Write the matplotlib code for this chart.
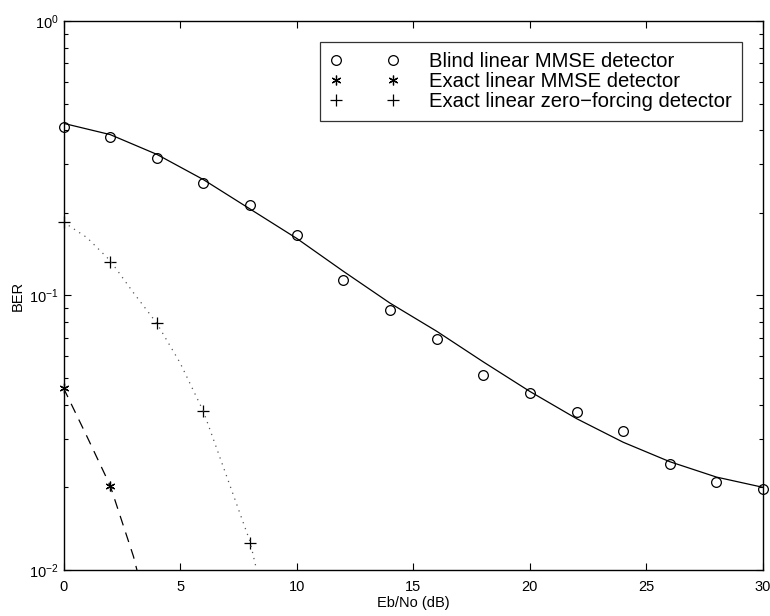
import matplotlib
matplotlib.use("Agg")
import matplotlib.pyplot as plt
from matplotlib.ticker import LogLocator, NullFormatter

plt.rcParams['font.family'] = ['Liberation Sans', 'DejaVu Sans']
plt.rcParams['mathtext.fontset'] = 'custom'
plt.rcParams['mathtext.rm'] = 'Liberation Sans'
plt.rcParams['mathtext.it'] = 'Liberation Sans:italic'
plt.rcParams['mathtext.bf'] = 'Liberation Sans:bold'

# ---- data ----
snr_pts = [0, 2, 4, 6, 8, 10, 12, 14, 16, 18, 20, 22, 24, 26, 28, 30]
blind_ber = [0.412, 0.378, 0.318, 0.256, 0.213, 0.166, 0.114, 0.0887, 0.0697,
             0.0512, 0.0440, 0.0377, 0.0321, 0.0243, 0.0209, 0.0198]
blind_fit = [0.4236, 0.3855, 0.3266, 0.2642, 0.2065, 0.1614, 0.1225, 0.0938,
             0.0741, 0.0573, 0.0447, 0.0356, 0.0292, 0.0248, 0.0218, 0.0200]

mmse_snr = [0, 2]
mmse_ber = [0.046, 0.0203]
mmse_curve_snr = [0, 1, 2, 3, 4]
mmse_curve = [0.046, 0.0307, 0.0203, 0.0112, 0.0052]

zf_snr = [0, 2, 4, 6, 8]
zf_ber = [0.185, 0.1327, 0.0792, 0.0378, 0.01252]
zf_curve_snr = [0, 1, 2, 3, 4, 5, 6, 7, 8, 8.5, 9]
zf_curve = [0.185, 0.1626, 0.1340, 0.1023, 0.0792, 0.0568, 0.0378, 0.0219,
            0.01268, 0.0083, 0.0050]

legend_labels = ['Blind linear MMSE detector',
                 'Exact linear MMSE detector',
                 'Exact linear zero\u2212forcing detector']

fig = plt.figure(figsize=(7.7, 6.16), dpi=100)
ax = fig.add_axes([0.0825, 0.0747, 0.9085, 0.8913])

# markers
ax.plot(snr_pts, blind_ber, linestyle='none', marker='o', mfc='none', mec='black',
        ms=7, mew=0.9, label=legend_labels[0], clip_on=False)
ax.plot(mmse_snr, mmse_ber, linestyle='none', marker=(6, 2, 0), color='black',
        ms=7, mew=0.9, label=legend_labels[1], clip_on=False)
ax.plot(zf_snr, zf_ber, linestyle='none', marker='+', color='black',
        ms=9, mew=0.9, label=legend_labels[2], clip_on=False)

# fitted curves
ax.plot(snr_pts, blind_fit, '-', color='black', lw=0.9)
ax.plot(mmse_curve_snr, mmse_curve, color='black', lw=0.9, linestyle=(0, (8, 6)))
ax.plot(zf_curve_snr, zf_curve, color='#555555', lw=0.9, linestyle=(0, (1, 4)))

ax.set_yscale('log')
ax.set_xlim(0, 30)
ax.set_ylim(1e-2, 1)
ax.set_xticks([0, 5, 10, 15, 20, 25, 30])
ax.yaxis.set_major_locator(LogLocator(base=10, numticks=10))
ax.yaxis.set_minor_locator(LogLocator(base=10, subs=range(2, 10), numticks=20))
ax.yaxis.set_minor_formatter(NullFormatter())

ax.tick_params(which='both', direction='in', top=True, right=True,
               labelsize=10.5, width=0.8)
ax.tick_params(which='major', length=5)
ax.tick_params(which='minor', length=3)
ax.tick_params(axis='x', pad=7)
for s in ax.spines.values():
    s.set_linewidth(1.0)

ax.set_xlabel('Eb/No (dB)', fontsize=10.5, labelpad=2)
ax.set_ylabel('BER', fontsize=10.5, labelpad=3)

leg = ax.legend(loc='upper right', bbox_to_anchor=(0.970, 0.962), numpoints=2,
                handlelength=3.4, handletextpad=1.5, fontsize=14.6,
                frameon=True, fancybox=False, edgecolor='black', borderpad=0.5,
                labelspacing=0.05, borderaxespad=0)
leg.get_frame().set_linewidth(0.9)

fig.savefig('out.png', dpi=100)
